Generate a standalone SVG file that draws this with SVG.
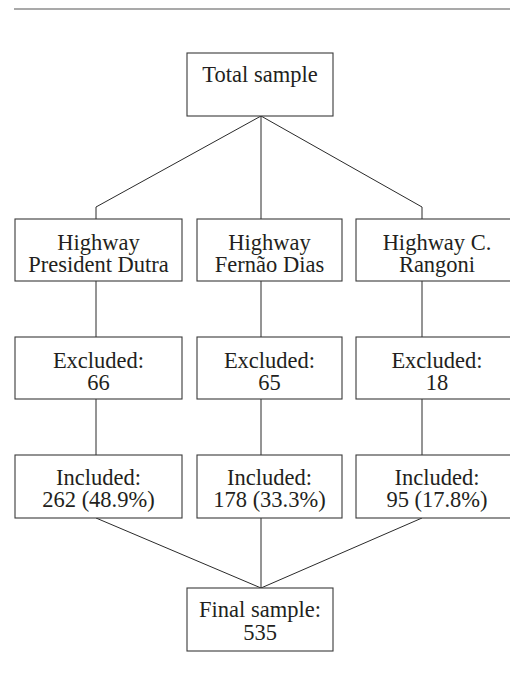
<svg xmlns="http://www.w3.org/2000/svg" width="510" height="675" viewBox="0 0 510 675">
<style>
.box{fill:#fff;stroke:#3a3a3a;stroke-width:1.1}
.t{font-family:"Liberation Serif","Times New Roman",serif;font-size:22.5px;fill:#231f20;text-anchor:middle}
.c{fill:none;stroke:#2a2a2a;stroke-width:1}
</style>
<rect width="510" height="675" fill="#fff"/>
<line x1="14" y1="9" x2="510" y2="9" stroke="#555" stroke-width="1.2"/>
<g id="connectors">
<path class="c" d="M261,116 L96,207 L96,219"/>
<path class="c" d="M261,116 L261,219"/>
<path class="c" d="M261,116 L422,207 L422,219"/>
<path class="c" d="M96,281 L96,337 M261,281 L261,337 M422,281 L422,337"/>
<path class="c" d="M96,399 L96,455 M261,399 L261,455 M422,399 L422,455"/>
<path class="c" d="M96,518 L261,588 M261,518 L261,588 M422,518 L261,588"/>
</g>
<g id="total">
<rect class="box" x="187" y="53" width="146" height="63"/>
<text class="t" x="260" y="82">Total sample</text>
</g>
<g id="hw1">
<rect class="box" x="15" y="219" width="167" height="62"/>
<text class="t" x="98.5" y="250">Highway</text>
<text class="t" x="98.5" y="272">President Dutra</text>
</g>
<g id="hw2">
<rect class="box" x="197" y="219" width="145" height="62"/>
<text class="t" x="269.5" y="250">Highway</text>
<text class="t" x="269.5" y="272">Fernão Dias</text>
</g>
<g id="hw3">
<rect class="box" x="356" y="219" width="164" height="62"/>
<text class="t" x="437" y="250">Highway C.</text>
<text class="t" x="437" y="272">Rangoni</text>
</g>
<g id="ex1">
<rect class="box" x="15" y="337" width="167" height="62"/>
<text class="t" x="98.5" y="368">Excluded:</text>
<text class="t" x="98.5" y="390">66</text>
</g>
<g id="ex2">
<rect class="box" x="197" y="337" width="145" height="62"/>
<text class="t" x="269.5" y="368">Excluded:</text>
<text class="t" x="269.5" y="390">65</text>
</g>
<g id="ex3">
<rect class="box" x="356" y="337" width="164" height="62"/>
<text class="t" x="437" y="368">Excluded:</text>
<text class="t" x="437" y="390">18</text>
</g>
<g id="in1">
<rect class="box" x="15" y="455" width="167" height="63"/>
<text class="t" x="98.5" y="485">Included:</text>
<text class="t" x="98.5" y="507">262 (48.9%)</text>
</g>
<g id="in2">
<rect class="box" x="197" y="455" width="145" height="63"/>
<text class="t" x="269.5" y="485">Included:</text>
<text class="t" x="269.5" y="507">178 (33.3%)</text>
</g>
<g id="in3">
<rect class="box" x="356" y="455" width="164" height="63"/>
<text class="t" x="437" y="485">Included:</text>
<text class="t" x="437" y="507">95 (17.8%)</text>
</g>
<g id="final">
<rect class="box" x="187" y="588" width="146" height="63"/>
<text class="t" x="260" y="617">Final sample:</text>
<text class="t" x="260" y="640">535</text>
</g>
</svg>
